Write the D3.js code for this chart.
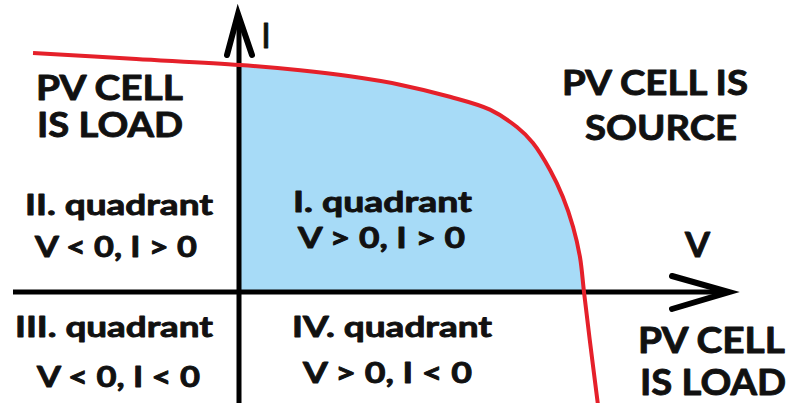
<!DOCTYPE html>
<html><head><meta charset="utf-8">
<script src="https://cdn.jsdelivr.net/npm/d3@7"></script>
<style>html,body{margin:0;padding:0;background:#fff;overflow:hidden}</style>
</head><body>
<script>
// I-V curve of a PV cell (voltage in V, current in A)
const voltage = [-0.361, -0.181, 0, 0.105, 0.192, 0.279, 0.366, 0.436, 0.483, 0.511, 0.541, 0.563, 0.581, 0.593, 0.600, 0.610, 0.624];
const current = [3.16, 3.08, 3.00, 2.93, 2.85, 2.74, 2.58, 2.41, 2.18, 1.97, 1.61, 1.26, 0.86, 0.46, 0, -0.63, -1.47];
const axisNames = ["V", "I"];
const labelTexts = ["PV CELL", "IS LOAD", "PV CELL IS", "SOURCE", "II. quadrant", "V < 0, I > 0", "I. quadrant", "V > 0, I > 0",
  "III. quadrant", "V < 0, I < 0", "IV. quadrant", "V > 0, I < 0", "PV CELL", "IS LOAD"];

const W = 787, H = 403;
const x = d3.scaleLinear().domain([0, 0.6]).range([240, 584]);
const y = d3.scaleLinear().domain([0, 3]).range([292, 65]);

const svg = d3.select("body").append("svg").attr("width", W).attr("height", H);
const pts = voltage.map((v, i) => ({v, i: current[i]}));
const curve = d3.curveCatmullRom.alpha(0.5);

// filled region (quadrant I under curve)
const fillPts = pts.filter(d => d.v >= 0 && d.i >= 0);
svg.append("path").datum(fillPts)
  .attr("d", d3.area().x(d => x(d.v)).y0(y(0)).y1(d => y(d.i)).curve(curve))
  .attr("fill", "#a7dbf7");

// axes
const x0 = x(0), y0 = y(0);
const g = svg.append("g").attr("stroke", "#000").attr("fill", "none");
g.append("line").attr("x1", 13).attr("x2", 727).attr("y1", y0).attr("y2", y0).attr("stroke-width", 5);
g.append("line").attr("x1", x0 - 1).attr("x2", x0 - 1).attr("y1", 16).attr("y2", H).attr("stroke-width", 5);
g.append("path").attr("d", `M672,276 L729,${y0} L672,309`).attr("stroke-width", 6).attr("stroke-linejoin", "miter").attr("stroke-linecap", "round");
g.append("path").attr("d", `M227,55 L${x0 - 2},14 L252,55`).attr("stroke-width", 6).attr("stroke-linejoin", "miter").attr("stroke-linecap", "round");

// I-V curve
svg.append("path").datum(pts)
  .attr("d", d3.line().x(d => x(d.v)).y(d => y(d.i)).curve(curve))
  .attr("fill", "none").attr("stroke", "#e5202a").attr("stroke-width", 4);

// labels
const big = 35, small = 29;
const layout = [
  [36, 100, 147, big], [37, 137, 146, big], [562, 95, 186, big], [585, 140, 152, big],
  [25, 215, 188, small], [35, 257, 162, small], [293, 212, 179, small], [298, 248, 167, small],
  [15, 337, 198, small], [37, 387, 163, small], [292, 337, 200, small], [303, 383, 169, small],
  [638, 353, 147, 36], [640, 395, 146, 36]
];
const tg = svg.append("g").attr("font-family", "Lato, 'Open Sans', sans-serif").attr("font-weight", 700)
  .attr("fill", "#111").attr("stroke", "#111").attr("stroke-width", 0.9).attr("stroke-linejoin", "round");
labelTexts.forEach((t, k) => {
  const [lx, ly, lw, fs] = layout[k];
  tg.append("text").attr("x", lx).attr("y", ly).attr("font-size", fs)
    .attr("textLength", lw).attr("lengthAdjust", "spacingAndGlyphs").text(t);
});
tg.append("text").attr("x", 685).attr("y", 257).attr("font-size", big).attr("textLength", 25).attr("lengthAdjust", "spacingAndGlyphs").text(axisNames[0]);
tg.append("text").attr("x", 262).attr("y", 48).attr("font-size", big).attr("textLength", 8).attr("lengthAdjust", "spacingAndGlyphs").text(axisNames[1]);
</script>
</body></html>
